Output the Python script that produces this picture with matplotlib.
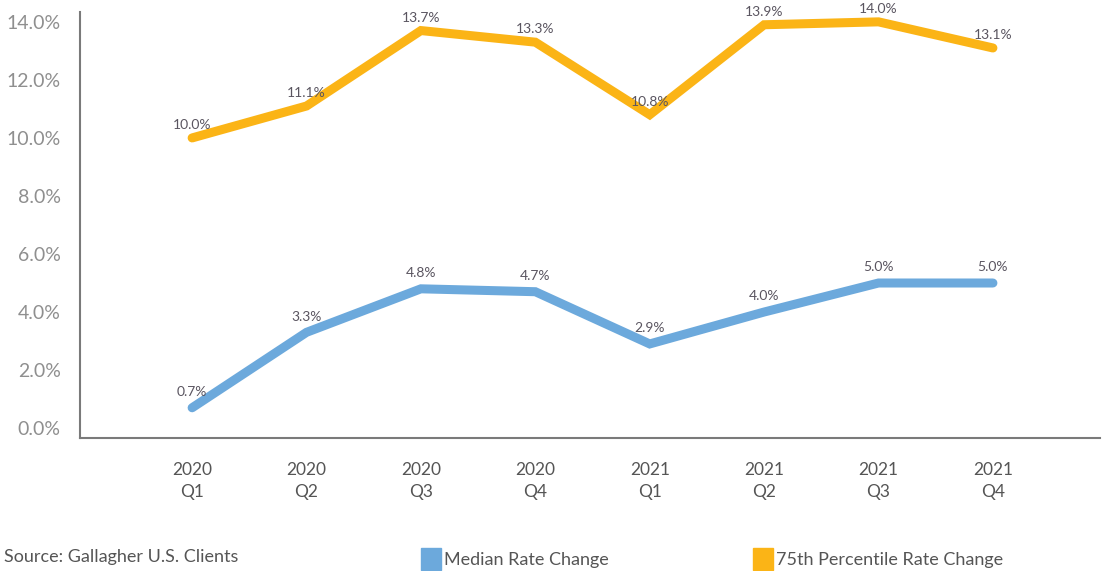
import matplotlib
matplotlib.use("Agg")
import matplotlib.pyplot as plt
from matplotlib.patches import Patch

# quarters and rate changes (%)
quarters = ["2020\nQ1", "2020\nQ2", "2020\nQ3", "2020\nQ4", "2021\nQ1", "2021\nQ2", "2021\nQ3", "2021\nQ4"]
median = [0.7, 3.3, 4.8, 4.7, 2.9, 4.0, 5.0, 5.0]
pct75 = [10.0, 11.1, 13.7, 13.3, 10.8, 13.9, 14.0, 13.1]
yticks = [0, 2, 4, 6, 8, 10, 12, 14]

blue = "#6CA9DC"
orange = "#FBB416"

plt.rcParams["font.family"] = ["Lato", "DejaVu Sans"]

fig = plt.figure(figsize=(11.02, 5.71), dpi=100)
ax = fig.add_axes([0.0726, 0.233, 0.926, 0.746])

x = list(range(len(quarters)))
ax.plot(x, pct75, color=orange, lw=6.5, solid_capstyle="round", solid_joinstyle="miter")
ax.plot(x, median, color=blue, lw=6.5, solid_capstyle="round", solid_joinstyle="miter")

for xi, v in zip(x, pct75):
    ax.annotate(f"{v:.1f}%", (xi, v), xytext=(0, 5), textcoords="offset points",
                ha="center", va="bottom", fontsize=10, color="#5a5560")
for xi, v in zip(x, median):
    ax.annotate(f"{v:.1f}%", (xi, v), xytext=(0, 7), textcoords="offset points",
                ha="center", va="bottom", fontsize=10, color="#5a5560")

ax.set_xlim(-0.98, 7.94)
ax.set_ylim(-0.34, 14.34)
ax.set_yticks(yticks)
ax.set_yticklabels([f"{t:.1f}%" for t in yticks], fontsize=14, color="#8f8f8f")
ax.set_xticks(x)
ax.set_xticklabels(quarters, fontsize=12.5, color="#555555", linespacing=1.5)
ax.tick_params(length=0)
ax.tick_params(axis="x", pad=17)
ax.tick_params(axis="y", pad=14)

for s in ["top", "right"]:
    ax.spines[s].set_visible(False)
for s in ["left", "bottom"]:
    ax.spines[s].set_color("#7a7a7a")
    ax.spines[s].set_linewidth(1.5)

fig.text(0.004, 0.01, "Source: Gallagher U.S. Clients", fontsize=13, color="#555555", va="bottom")
handles = [Patch(color=blue, label="Median Rate Change"),
           Patch(color=orange, label="75th Percentile Rate Change")]
leg = fig.legend(handles=handles, loc="lower left", bbox_to_anchor=(0.3675, -0.027), ncol=2,
                 frameon=False, fontsize=13, handlelength=1.1, handleheight=1.5,
                 handletextpad=0.15, columnspacing=8.0)
for t in leg.get_texts():
    t.set_color("#555555")

fig.savefig("out.png", dpi=100)
